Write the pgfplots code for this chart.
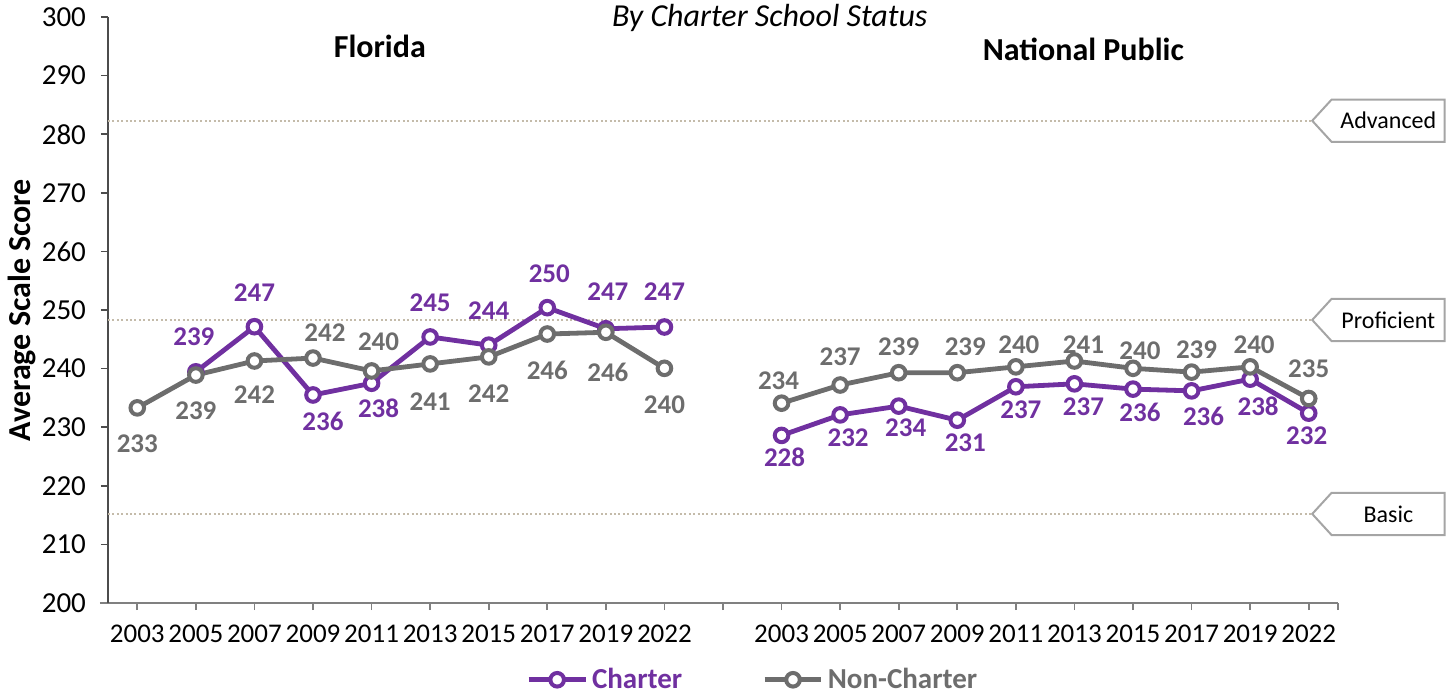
\documentclass[border=0pt]{standalone}
\usepackage{fontspec}
\setmainfont{Carlito}
\usepackage{pgfplots}
\pgfplotsset{compat=1.18}
\usepackage{pgfplotstable}

\definecolor{chpurple}{HTML}{7030A0}
\definecolor{ncgray}{HTML}{6D6D6D}
\definecolor{refline}{HTML}{C4BBAA}
\definecolor{boxgray}{HTML}{A5A5A5}

% x: 0-9 Florida, 11-20 National Public; dy/dx = label offset in pt
\pgfplotstableread{
x y lab dy dx
1 239.45 239 17.5 -1
2 247.15 247 17 0
3 235.5 236 -13 5
4 237.5 238 -12.5 3.5
5 245.4 245 17 0
6 244.0 244 17.5 0
7 250.4 250 17 1
8 246.8 247 18.5 1
9 247.1 247 17.5 0
}\flcharter
\pgfplotstableread{
x y lab dy dx
0 233.3 233 -18 0
1 238.9 239 -18 0
2 241.3 242 -17 0
3 241.8 242 12.5 6
4 239.6 240 14.5 3.5
5 240.8 241 -19 0
6 242.0 242 -18.5 0
7 245.9 246 -18 0
8 246.2 246 -20 1
9 240.05 240 -18 0
}\flnon
\pgfplotstableread{
x y lab dy dx
11 228.6 228 -11 1.5
12 232.1 232 -11.5 4
13 233.6 234 -11 3.5
14 231.2 231 -11.5 4
15 236.9 237 -11.5 2.5
16 237.4 237 -11.5 4.5
17 236.5 236 -11.5 3.5
18 236.2 236 -13 6
19 238.2 238 -13.5 4
20 232.4 232 -11.5 -1
}\nacharter
\pgfplotstableread{
x y lab dy dx
11 234.1 234 11 -1.5
12 237.2 237 14 0
13 239.3 239 13 0
14 239.3 239 13 4
15 240.3 240 11 1.5
16 241.3 241 8 4.5
17 240.05 240 9 3.5
18 239.4 239 11 2.5
19 240.3 240 11 2
20 234.9 235 15 0
}\nanon

\newcommand{\levelbox}[2]{%
  \draw[boxgray, line width=1pt, fill=white]
    (axis cs:20.06,#1) -- (axis cs:20.39,{#1+3.6}) -- (axis cs:22.32,{#1+3.6})
    -- (axis cs:22.32,{#1-3.6}) -- (axis cs:20.39,{#1-3.6}) -- cycle;
  \node[font=\fontsize{12}{14}\selectfont] at (axis cs:21.36,#1) {#2};}

\pgfplotsset{
  series/.style={line width=2.4pt, mark=*, mark size=3.4pt,
    mark options={fill=white, line width=2pt, solid},
    nodes near coords, point meta=explicit symbolic,
    visualization depends on={\thisrow{dy} \as \labeldy},
    visualization depends on={\thisrow{dx} \as \labeldx},
    nodes near coords style={anchor=center, yshift=\labeldy pt, xshift=\labeldx pt,
      font=\fontsize{13.5}{16}\selectfont\bfseries, text=#1}},
}

\begin{document}
\begin{tikzpicture}
\path[use as bounding box] (-54pt,-47.5pt) rectangle (672.5pt,301.5pt);
\begin{axis}[
    scale only axis, width=615pt, height=293pt,
    xmin=-0.5, xmax=20.5, ymin=200, ymax=300,
    axis x line*=bottom, axis y line*=left,
    x axis line style={-, draw=black!50, line width=0.8pt, shorten <=-4pt},
    y axis line style={-, draw=black!70, line width=0.8pt},
    xtick={0,...,20},
    xticklabels={2003,2005,2007,2009,2011,2013,2015,2017,2019,2022,,2003,2005,2007,2009,2011,2013,2015,2017,2019,2022},
    extra x ticks={20.5}, extra x tick labels={},
    ytick={200,210,...,300},
    tick align=outside, major tick length=3.5pt,
    x tick style={draw=black!50, line width=0.8pt},
    y tick style={draw=black!70, line width=0.8pt},
    ticklabel style={font=\fontsize{13.5}{16}\selectfont, text=black},
    xticklabel style={yshift=-4pt},
    yticklabel style={xshift=-4pt, font=\fontsize{14.5}{17}\selectfont},
    /pgf/number format/assume math mode=true,
    ylabel={\textbf{Average Scale Score}},
    ylabel style={at={(axis description cs:-0.0699,0.5)}, anchor=center,
      font=\fontsize{16}{19}\selectfont},
    clip=false,
    legend style={at={(0.525,-0.131)}, anchor=center, draw=none, fill=none,
      legend columns=2, font=\fontsize{14.5}{17}\selectfont\bfseries,
      /tikz/every even column/.append style={column sep=38pt}},
    legend image code/.code={\draw[mark repeat=2,mark phase=2,#1]
      plot coordinates {(0cm,0cm) (0.5cm,0cm) (1cm,0cm)};},
]
\addplot[refline, line width=1pt, dash pattern=on 1pt off 1.2pt, forget plot]
  coordinates {(-0.5,282.3) (20.06,282.3)};
\addplot[refline, line width=1pt, dash pattern=on 1pt off 1.2pt, forget plot]
  coordinates {(-0.5,248.3) (20.06,248.3)};
\addplot[refline, line width=1pt, dash pattern=on 1pt off 1.2pt, forget plot]
  coordinates {(-0.5,215.2) (20.06,215.2)};

\addplot[chpurple, series=chpurple] table[x=x, y=y, meta=lab] {\flcharter};
\addlegendentry{\textcolor{chpurple}{Charter}}
\addplot[ncgray, series=ncgray] table[x=x, y=y, meta=lab] {\flnon};
\addlegendentry{\textcolor{ncgray}{Non-Charter}}
\addplot[chpurple, series=chpurple, forget plot] table[x=x, y=y, meta=lab] {\nacharter};
\addplot[ncgray, series=ncgray, forget plot] table[x=x, y=y, meta=lab] {\nanon};

\levelbox{282.3}{Advanced}
\levelbox{248.3}{Proficient}
\levelbox{215.2}{Basic}

\node[font=\fontsize{16}{19}\selectfont\itshape] at (rel axis cs:0.538,0.998) {By Charter School Status};
\node[font=\fontsize{16}{19}\selectfont\bfseries] at (rel axis cs:0.221,0.949) {Florida};
\node[font=\fontsize{16}{19}\selectfont\bfseries] at (rel axis cs:0.793,0.944) {National Public};
\end{axis}
\end{tikzpicture}
\end{document}
